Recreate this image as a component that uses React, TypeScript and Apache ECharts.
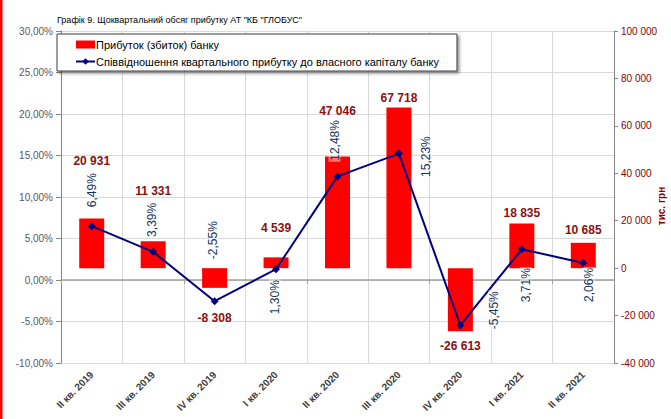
import React, { useEffect, useRef } from "react";
import * as echarts from "echarts";

const categories = [
  "II кв. 2019",
  "III кв. 2019",
  "IV кв. 2019",
  "I кв. 2020",
  "II кв. 2020",
  "III кв. 2020",
  "IV кв. 2020",
  "I кв. 2021",
  "II кв. 2021",
];
const profit = [20931, 11331, -8308, 4539, 47046, 67718, -26613, 18835, 10685];
const ratio = [6.49, 3.39, -2.55, 1.3, 12.48, 15.23, -5.45, 3.71, 2.06];

const titleText = 'Графік 9. Щоквартальний обсяг прибутку АТ "КБ "ГЛОБУС"';
const barName = "Прибуток (збиток) банку";
const lineName = "Співвідношення квартального прибутку до власного капіталу банку";
const rightAxisName = "тис. грн";

// label placement tweaks (screen px, label centre distance from bar end)
const barLabelGap = [59, 51, 31, 30, 47, 11, 16, 11, 14];
const lineLabelShift: [number, number][] = [
  [0, -36],
  [-1, -32],
  [-2, -61],
  [-1, 28],
  [-3, -36],
  [27, 3],
  [34, -15],
  [4, 36],
  [6, 22],
];

const FONT = "Liberation Sans";

function fmtThousands(v: number): string {
  const s = Math.abs(Math.round(v)).toString().replace(/\B(?=(\d{3})+(?!\d))/g, " ");
  return (v < 0 ? "-" : "") + s;
}
function fmtPct(v: number): string {
  return v.toFixed(2).replace(".", ",") + "%";
}

export default function App() {
  const ref = useRef<HTMLDivElement>(null);
  useEffect(() => {
    document.body.style.margin = "0";
    if (!ref.current) return;
    const chart = echarts.init(ref.current, null, { renderer: "svg" });
    const barData = profit.map((v) => ({
      value: v,
      label: { position: v < 0 ? "bottom" : "top" },
    }));
    const lineData = ratio.map((v, i) => {
      const [sx, sy] = lineLabelShift[i];
      return {
        value: v,
        label: { offset: [-sy, sx] },
      };
    });
    chart.setOption({
      animation: false,
      textStyle: { fontFamily: FONT },
      title: {
        text: titleText,
        left: 52,
        top: 10,
        textStyle: { fontSize: 9, fontWeight: "normal", color: "#000", fontFamily: FONT },
      },
      legend: {
        orient: "vertical",
        left: 57,
        top: 34,
        padding: [5, 18, 4, 18],
        itemGap: 6,
        itemWidth: 19,
        itemHeight: 8,
        backgroundColor: "#fff",
        borderColor: "#404040",
        borderWidth: 1,
        shadowBlur: 3,
        shadowOffsetX: 2,
        shadowOffsetY: 2,
        shadowColor: "rgba(0,0,0,0.45)",
        textStyle: { fontSize: 11, color: "#000", fontFamily: FONT, padding: [0, 0, 0, -4] },
        data: [
          { name: barName, icon: "rect" },
          { name: lineName },
        ],
      },
      grid: { left: 61, right: 57, top: 31, bottom: 56 },
      xAxis: [
        {
          type: "category",
          data: categories,
          position: "bottom",
          axisLine: { show: false },
          axisTick: { show: false },
          splitLine: { show: true, lineStyle: { color: "#D9D9D9", width: 1 } },
          axisLabel: {
            rotate: 45,
            margin: 10,
            fontSize: 10,
            fontWeight: "bold",
            color: "#404040",
            fontFamily: FONT,
            interval: 0,
          },
        },
        {
          type: "category",
          data: categories,
          position: "top",
          axisLine: { show: true, onZero: true, onZeroAxisIndex: 0, lineStyle: { color: "#A0A0A0", width: 1.5 } },
          axisTick: { show: true, inside: true, length: 4, lineStyle: { color: "#A0A0A0" } },
          axisLabel: { show: false },
          splitLine: { show: false },
        },
      ],
      yAxis: [
        {
          type: "value",
          min: -10,
          max: 30,
          interval: 5,
          position: "left",
          axisLine: { show: true, onZero: false, lineStyle: { color: "#868686" } },
          axisTick: { show: true, length: 5, lineStyle: { color: "#868686" } },
          splitLine: { show: true, lineStyle: { color: "#D9D9D9" } },
          axisLabel: { formatter: (v: number) => fmtPct(v), fontSize: 10, color: "#595959", margin: 8, fontFamily: FONT },
        },
        {
          type: "value",
          min: -40000,
          max: 100000,
          interval: 20000,
          position: "right",
          axisLine: { show: true, onZero: false, lineStyle: { color: "#868686" } },
          axisTick: { show: true, length: 4, lineStyle: { color: "#868686" } },
          splitLine: { show: false },
          axisLabel: { formatter: (v: number) => fmtThousands(v), fontSize: 10, color: "#8B0000", margin: 7, fontFamily: FONT },
        },
      ],
      graphic: [
        { type: "rect", left: 0, top: 0, shape: { x: 0, y: 0, width: 2.5, height: 419 }, style: { fill: "#FF0000" } },
        {
          type: "text",
          x: 661,
          y: 206,
          rotation: Math.PI / 2,
          style: {
            text: rightAxisName,
            fill: "#8B0000",
            font: `bold 10px "${FONT}"`,
            align: "center",
            verticalAlign: "middle",
          },
        },
      ],
      series: [
        {
          name: barName,
          type: "bar",
          xAxisIndex: 0,
          yAxisIndex: 1,
          barWidth: 25,
          itemStyle: { color: "#FF0000" },
          label: {
            show: true,
            distance: 5,
            formatter: (p: any) => fmtThousands(p.value),
            fontSize: 12,
            fontWeight: "bold",
            color: "#8B1010",
            fontFamily: FONT,
          },
          labelLayout: (params: any) => {
            const i = params.dataIndex;
            const d = barLabelGap[i] - 12;
            return { dy: profit[i] < 0 ? d : -d };
          },
          data: barData,
        },
        {
          name: lineName,
          type: "line",
          xAxisIndex: 0,
          yAxisIndex: 0,
          symbol: "diamond",
          symbolSize: 8,
          lineStyle: { color: "#000080", width: 2 },
          itemStyle: { color: "#000080" },
          z: 5,
          label: {
            show: true,
            position: "inside",
            rotate: 90,
            align: "center",
            verticalAlign: "middle",
            formatter: (p: any) => fmtPct(p.value),
            fontSize: 12,
            color: "#173563",
            fontFamily: FONT,
            backgroundColor: "rgba(255,255,255,0.45)",
            padding: [0, 1],
          },
          data: lineData,
        },
      ],
    });
    return () => chart.dispose();
  }, []);
  return <div ref={ref} style={{ width: 671, height: 419 }} />;
}
